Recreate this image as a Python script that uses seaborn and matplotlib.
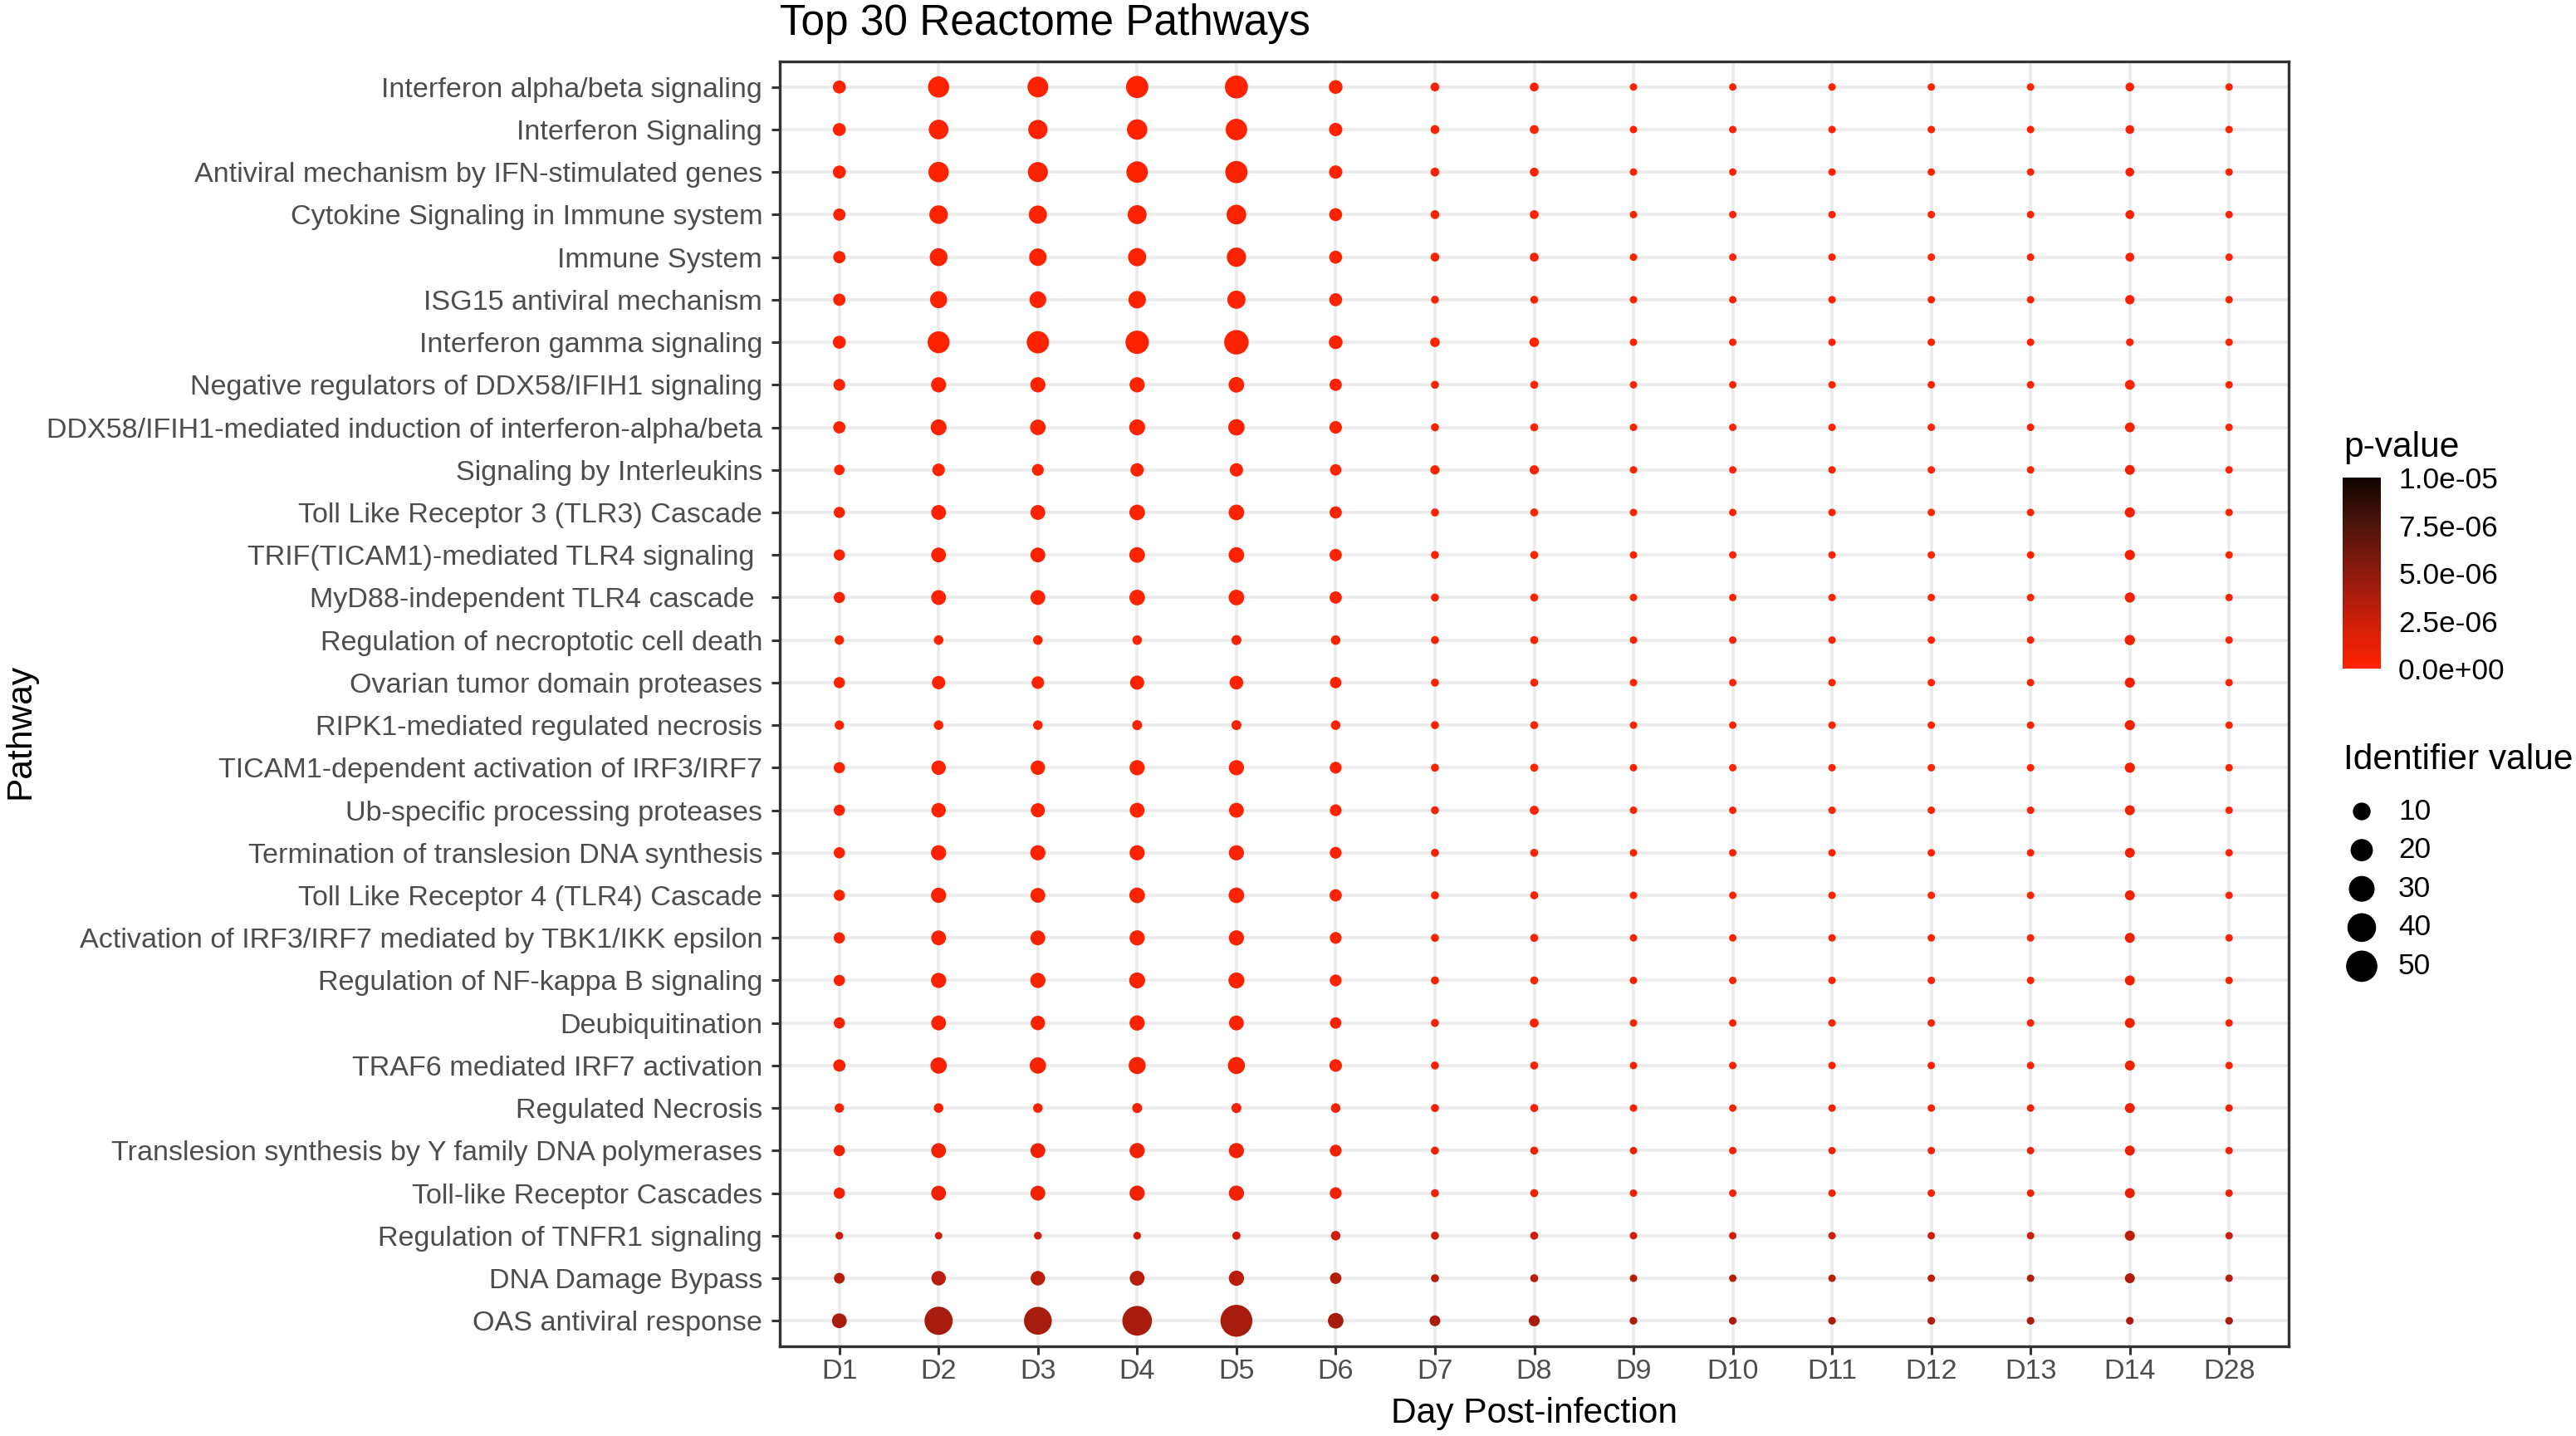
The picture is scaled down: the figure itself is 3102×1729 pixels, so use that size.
import numpy as np
import pandas as pd
import matplotlib
matplotlib.use("Agg")
import matplotlib.pyplot as plt
import seaborn as sns
from matplotlib.colors import LinearSegmentedColormap, Normalize
from matplotlib.cm import ScalarMappable

# ---------------- data ----------------
pathways = [
    "Interferon alpha/beta signaling",
    "Interferon Signaling",
    "Antiviral mechanism by IFN-stimulated genes",
    "Cytokine Signaling in Immune system",
    "Immune System",
    "ISG15 antiviral mechanism",
    "Interferon gamma signaling",
    "Negative regulators of DDX58/IFIH1 signaling",
    "DDX58/IFIH1-mediated induction of interferon-alpha/beta",
    "Signaling by Interleukins",
    "Toll Like Receptor 3 (TLR3) Cascade",
    "TRIF(TICAM1)-mediated TLR4 signaling ",
    "MyD88-independent TLR4 cascade ",
    "Regulation of necroptotic cell death",
    "Ovarian tumor domain proteases",
    "RIPK1-mediated regulated necrosis",
    "TICAM1-dependent activation of IRF3/IRF7",
    "Ub-specific processing proteases",
    "Termination of translesion DNA synthesis",
    "Toll Like Receptor 4 (TLR4) Cascade",
    "Activation of IRF3/IRF7 mediated by TBK1/IKK epsilon",
    "Regulation of NF-kappa B signaling",
    "Deubiquitination",
    "TRAF6 mediated IRF7 activation",
    "Regulated Necrosis",
    "Translesion synthesis by Y family DNA polymerases",
    "Toll-like Receptor Cascades",
    "Regulation of TNFR1 signaling",
    "DNA Damage Bypass",
    "OAS antiviral response",
]

days = ["D1", "D2", "D3", "D4", "D5", "D6", "D7", "D8", "D9", "D10",
        "D11", "D12", "D13", "D14", "D28"]

# identifier value per pathway (rows) and day (columns D1..D28)
identifier_values = [
    [3.3, 17.3, 16.4, 20.0, 21.9, 4.1, 0.40, 0.40, 0.05, 0.05, 0.05, 0.05, 0.05, 0.35, 0.05],
    [3.3, 13.9, 13.1, 15.5, 18.1, 3.7, 0.40, 0.40, 0.05, 0.05, 0.05, 0.05, 0.05, 0.35, 0.05],
    [3.3, 15.5, 14.7, 18.1, 20.0, 3.7, 0.40, 0.40, 0.05, 0.05, 0.05, 0.05, 0.05, 0.40, 0.05],
    [2.6, 11.6, 10.9, 12.4, 13.9, 3.3, 0.40, 0.40, 0.05, 0.05, 0.05, 0.05, 0.05, 0.40, 0.05],
    [2.6, 10.2, 9.6, 10.9, 13.1, 3.3, 0.40, 0.40, 0.05, 0.05, 0.05, 0.05, 0.05, 0.40, 0.05],
    [2.6, 8.9, 8.3, 9.6, 10.9, 3.3, 0.12, 0.12, 0.05, 0.05, 0.05, 0.05, 0.05, 0.60, 0.05],
    [3.3, 19.1, 20.0, 22.9, 26.1, 4.1, 0.70, 0.70, 0.05, 0.05, 0.05, 0.05, 0.05, 0.08, 0.05],
    [2.2, 6.0, 6.0, 6.0, 6.6, 2.6, 0.15, 0.15, 0.05, 0.05, 0.05, 0.05, 0.05, 0.80, 0.05],
    [2.6, 7.1, 6.6, 7.1, 7.7, 2.9, 0.15, 0.15, 0.05, 0.05, 0.05, 0.05, 0.05, 0.80, 0.05],
    [1.2, 2.9, 2.2, 3.7, 3.7, 1.9, 0.55, 0.55, 0.05, 0.05, 0.05, 0.05, 0.05, 0.85, 0.05],
    [1.7, 5.5, 5.5, 6.6, 6.6, 2.6, 0.15, 0.15, 0.05, 0.05, 0.05, 0.05, 0.05, 1.00, 0.05],
    [1.7, 5.5, 5.5, 6.6, 6.6, 2.6, 0.15, 0.15, 0.05, 0.05, 0.05, 0.05, 0.05, 1.00, 0.05],
    [1.7, 5.5, 5.5, 6.6, 6.6, 2.6, 0.15, 0.15, 0.05, 0.05, 0.05, 0.05, 0.05, 1.00, 0.05],
    [0.6, 0.7, 0.7, 0.7, 0.9, 0.7, 0.15, 0.15, 0.05, 0.05, 0.05, 0.05, 0.05, 1.10, 0.05],
    [1.7, 3.7, 2.9, 4.6, 4.1, 1.9, 0.15, 0.15, 0.05, 0.05, 0.05, 0.05, 0.05, 1.00, 0.05],
    [0.6, 0.7, 0.7, 0.9, 0.9, 0.7, 0.15, 0.15, 0.05, 0.05, 0.05, 0.05, 0.05, 1.00, 0.05],
    [1.7, 5.0, 5.0, 6.0, 6.0, 2.2, 0.15, 0.15, 0.05, 0.05, 0.05, 0.05, 0.05, 1.00, 0.05],
    [1.7, 5.0, 4.6, 5.5, 5.5, 2.2, 0.15, 0.45, 0.05, 0.05, 0.05, 0.05, 0.05, 0.90, 0.05],
    [1.7, 6.0, 6.0, 6.0, 6.0, 2.2, 0.15, 0.15, 0.05, 0.05, 0.05, 0.05, 0.05, 0.85, 0.05],
    [1.7, 6.0, 5.5, 6.6, 6.6, 2.6, 0.15, 0.15, 0.05, 0.05, 0.05, 0.05, 0.05, 0.90, 0.05],
    [1.7, 5.5, 5.5, 6.0, 6.0, 2.2, 0.15, 0.15, 0.05, 0.05, 0.05, 0.05, 0.05, 0.90, 0.05],
    [1.7, 6.0, 6.0, 7.1, 7.1, 2.2, 0.15, 0.15, 0.05, 0.05, 0.05, 0.05, 0.05, 0.90, 0.05],
    [1.7, 5.5, 5.0, 6.0, 5.5, 1.9, 0.15, 0.45, 0.05, 0.05, 0.05, 0.05, 0.05, 0.90, 0.05],
    [2.6, 7.7, 7.7, 8.9, 8.9, 2.9, 0.15, 0.15, 0.05, 0.05, 0.05, 0.05, 0.05, 0.90, 0.05],
    [0.6, 0.7, 0.7, 0.9, 0.9, 0.7, 0.15, 0.15, 0.05, 0.05, 0.05, 0.05, 0.05, 0.90, 0.05],
    [1.7, 5.5, 5.5, 6.0, 6.0, 2.2, 0.15, 0.15, 0.05, 0.05, 0.05, 0.05, 0.05, 0.90, 0.05],
    [1.7, 5.5, 5.5, 6.0, 6.0, 2.2, 0.15, 0.15, 0.05, 0.05, 0.05, 0.05, 0.05, 0.90, 0.05],
    [0.1, 0.05, 0.1, 0.1, 0.2, 0.7, 0.15, 0.15, 0.05, 0.05, 0.05, 0.05, 0.05, 1.00, 0.05],
    [1.4, 5.0, 5.0, 5.5, 6.0, 1.9, 0.15, 0.15, 0.05, 0.05, 0.05, 0.05, 0.05, 0.90, 0.05],
    [5.5, 38.1, 36.8, 43.5, 52.4, 6.6, 1.40, 1.60, 0.08, 0.08, 0.08, 0.08, 0.08, 0.08, 0.08],
]

# p-values in units of 1e-6, same layout
p_values_e6 = [
    [0.1, 0.1, 0.1, 0.1, 0.1, 0.1, 0.1, 0.1, 0.1, 0.1, 0.1, 0.1, 0.1, 0.2, 0.1],
    [0.1, 0.1, 0.1, 0.1, 0.1, 0.1, 0.1, 0.1, 0.1, 0.1, 0.1, 0.1, 0.1, 0.2, 0.1],
    [0.1, 0.1, 0.1, 0.1, 0.1, 0.1, 0.1, 0.1, 0.1, 0.1, 0.1, 0.1, 0.1, 0.2, 0.1],
    [0.1, 0.1, 0.1, 0.1, 0.1, 0.1, 0.1, 0.1, 0.1, 0.1, 0.1, 0.1, 0.1, 0.2, 0.1],
    [0.1, 0.1, 0.1, 0.1, 0.1, 0.1, 0.1, 0.1, 0.1, 0.1, 0.1, 0.1, 0.1, 0.2, 0.1],
    [0.1, 0.1, 0.1, 0.1, 0.1, 0.1, 0.1, 0.1, 0.1, 0.1, 0.1, 0.1, 0.1, 0.2, 0.1],
    [0.1, 0.1, 0.1, 0.1, 0.1, 0.1, 0.1, 0.1, 0.1, 0.1, 0.1, 0.1, 0.1, 0.2, 0.1],
    [0.1, 0.1, 0.1, 0.1, 0.1, 0.1, 0.1, 0.1, 0.1, 0.1, 0.1, 0.1, 0.1, 0.3, 0.1],
    [0.1, 0.1, 0.1, 0.1, 0.1, 0.1, 0.1, 0.1, 0.1, 0.1, 0.1, 0.1, 0.1, 0.3, 0.1],
    [0.1, 0.1, 0.1, 0.1, 0.1, 0.1, 0.1, 0.1, 0.1, 0.1, 0.1, 0.1, 0.1, 0.6, 0.1],
    [0.1, 0.1, 0.1, 0.1, 0.1, 0.1, 0.1, 0.1, 0.1, 0.1, 0.1, 0.1, 0.1, 0.6, 0.1],
    [0.1, 0.1, 0.1, 0.1, 0.1, 0.1, 0.1, 0.1, 0.1, 0.1, 0.1, 0.1, 0.1, 0.6, 0.1],
    [0.1, 0.1, 0.1, 0.1, 0.1, 0.1, 0.1, 0.1, 0.1, 0.1, 0.1, 0.1, 0.1, 0.6, 0.1],
    [0.1, 0.1, 0.1, 0.1, 0.1, 0.1, 0.1, 0.1, 0.1, 0.1, 0.1, 0.1, 0.1, 0.7, 0.1],
    [0.1, 0.1, 0.1, 0.1, 0.1, 0.1, 0.1, 0.1, 0.1, 0.1, 0.1, 0.1, 0.1, 0.6, 0.1],
    [0.1, 0.1, 0.1, 0.1, 0.1, 0.1, 0.1, 0.1, 0.1, 0.1, 0.1, 0.1, 0.1, 0.7, 0.1],
    [0.1, 0.1, 0.1, 0.1, 0.1, 0.1, 0.1, 0.1, 0.1, 0.1, 0.1, 0.1, 0.1, 0.6, 0.1],
    [0.1, 0.1, 0.1, 0.1, 0.1, 0.1, 0.1, 0.1, 0.1, 0.1, 0.1, 0.1, 0.1, 0.6, 0.1],
    [0.1, 0.1, 0.1, 0.1, 0.1, 0.1, 0.1, 0.1, 0.1, 0.1, 0.1, 0.1, 0.1, 0.6, 0.1],
    [0.1, 0.1, 0.1, 0.1, 0.1, 0.1, 0.1, 0.1, 0.1, 0.1, 0.1, 0.1, 0.1, 0.6, 0.1],
    [0.3, 0.3, 0.3, 0.3, 0.3, 0.3, 0.3, 0.3, 0.3, 0.3, 0.3, 0.3, 0.3, 0.8, 0.3],
    [0.3, 0.3, 0.3, 0.3, 0.3, 0.3, 0.3, 0.3, 0.3, 0.3, 0.3, 0.3, 0.3, 0.8, 0.3],
    [0.3, 0.3, 0.3, 0.3, 0.3, 0.3, 0.3, 0.3, 0.3, 0.3, 0.3, 0.3, 0.3, 0.8, 0.3],
    [0.3, 0.3, 0.3, 0.3, 0.3, 0.3, 0.3, 0.3, 0.3, 0.3, 0.3, 0.3, 0.3, 0.8, 0.3],
    [0.4, 0.4, 0.4, 0.4, 0.4, 0.4, 0.4, 0.4, 0.4, 0.4, 0.4, 0.4, 0.4, 0.9, 0.4],
    [0.7, 0.7, 0.7, 0.7, 0.7, 0.7, 0.7, 0.7, 0.7, 0.7, 0.7, 0.7, 0.7, 1.0, 0.7],
    [0.7, 0.7, 0.7, 0.7, 0.7, 0.7, 0.7, 0.7, 0.7, 0.7, 0.7, 0.7, 0.7, 1.0, 0.7],
    [2.4, 2.4, 2.4, 2.4, 2.4, 2.4, 2.4, 2.4, 2.4, 2.4, 2.4, 2.4, 2.4, 3.0, 2.4],
    [3.3, 3.3, 3.3, 3.3, 3.3, 3.3, 3.3, 3.3, 3.3, 3.3, 3.3, 3.3, 3.3, 3.6, 3.3],
    [4.0, 4.0, 4.0, 4.0, 4.0, 4.0, 3.9, 3.9, 3.9, 3.9, 3.9, 3.9, 3.9, 3.9, 3.9],
]

colorbar_ticks = [0.0, 2.5e-6, 5.0e-6, 7.5e-6, 1.0e-5]
colorbar_labels = ["0.0e+00", "2.5e-06", "5.0e-06", "7.5e-06", "1.0e-05"]
size_legend_values = [10, 20, 30, 40, 50]

# ---------------- frame ----------------
rows = []
for i, pw in enumerate(pathways):
    for j, d in enumerate(days):
        rows.append({"Pathway": pw, "Day": d,
                     "Identifier": identifier_values[i][j],
                     "p": p_values_e6[i][j] * 1e-6})
df = pd.DataFrame(rows)

# ---------------- style ----------------
sns.set_style("white")
plt.rcParams["font.family"] = ["Liberation Sans", "DejaVu Sans"]

DPI = 200
W, H = 3102, 1729
PX_PER_PT = DPI / 72.0

FS_TICK = 12.3
FS_LEG = 12.7
FS_AXT = 15.3
FS_TITLE = 18.5


def fx(px):
    return px / W


def fy(py):
    return 1 - py / H


def diam_px(v):
    return 8.0 + 4.2 * np.sqrt(v)


def area_pt2(v):
    return (diam_px(v) / PX_PER_PT) ** 2


cmap = LinearSegmentedColormap.from_list(
    "pval", [(0.0, "#FF2200"), (0.25, "#CC1E0A"), (0.5, "#8E1A0E"),
             (0.75, "#4E140A"), (1.0, "#100402")])
norm = Normalize(vmin=0.0, vmax=1.0e-5)

fig = plt.figure(figsize=(W / DPI, H / DPI), dpi=DPI)
P_L, P_R, P_T, P_B = 939, 2756, 74, 1621
ax = fig.add_axes([fx(P_L), fy(P_B), (P_R - P_L) / W, (P_B - P_T) / H])

size_map = {v: area_pt2(v) for v in np.unique(df["Identifier"])}
sns.scatterplot(data=df, x="Day", y="Pathway", hue="p", size="Identifier",
                sizes=size_map, palette=cmap, hue_norm=(0.0, 1.0e-5),
                linewidth=0, edgecolor="none", legend=False, ax=ax, zorder=3)

ax.set_xlim(-0.6, len(days) - 1 + 0.6)
ax.set_ylim(len(pathways) - 1 + 0.6, -0.6)
ax.set_axisbelow(True)
ax.grid(True, color="#EBEBEB", linewidth=1.3)
for s in ax.spines.values():
    s.set_color("#333333")
    s.set_linewidth(1.2)
ax.tick_params(axis="both", length=3.5, width=1.1, color="#333333",
               labelcolor="#4D4D4D", labelsize=FS_TICK)
ax.tick_params(axis="x", pad=2.0, bottom=True)
ax.tick_params(axis="y", pad=4, left=True)
ax.set_xlabel("")
ax.set_ylabel("")

fig.text(fx(939), fy(42), "Top 30 Reactome Pathways", fontsize=FS_TITLE,
         ha="left", va="baseline", color="black")
fig.text(fx((P_L + P_R) / 2), fy(1713), "Day Post-infection", fontsize=FS_AXT,
         ha="center", va="baseline", color="black")
fig.text(fx(25), fy(880), "Pathway", fontsize=FS_AXT, rotation=90,
         ha="center", va="center", color="black")

# colour legend
fig.text(fx(2822), fy(550), "p-value", fontsize=FS_AXT, ha="left",
         va="baseline", color="black")
cax = fig.add_axes([fx(2821), fy(805), 46 / W, 230 / H])
cb = fig.colorbar(ScalarMappable(norm=norm, cmap=cmap), cax=cax,
                  ticks=colorbar_ticks)
cb.ax.set_yticklabels(colorbar_labels)
cb.outline.set_visible(False)
cax.yaxis.set_ticks_position("both")
cax.tick_params(axis="y", direction="in", length=3.3, width=1.0,
                color="white", labelsize=FS_LEG, pad=7.6, labelcolor="black",
                labelleft=False, labelright=True)

# size legend
fig.text(fx(2822), fy(926), "Identifier value", fontsize=FS_AXT, ha="left",
         va="baseline", color="black")
LEG_TOP, LEG_STEP = 977, 46.6
n_leg = len(size_legend_values)
lax = fig.add_axes([fx(2822), fy(LEG_TOP - LEG_STEP / 2 + n_leg * LEG_STEP),
                    44 / W, n_leg * LEG_STEP / H])
legend_map = {v: area_pt2(v) for v in size_legend_values}
sns.scatterplot(x=[0.5] * n_leg, y=list(range(n_leg)),
                size=size_legend_values, sizes=legend_map, color="black",
                linewidth=0, legend=False, ax=lax, clip_on=False)
lax.set_xlim(0, 1)
lax.set_ylim(n_leg - 0.5, -0.5)
lax.axis("off")
for i, v in enumerate(size_legend_values):
    lax.text(1.5, i, str(v), fontsize=FS_LEG, ha="left", va="center",
             color="black")

fig.savefig("out.png", dpi=DPI)
